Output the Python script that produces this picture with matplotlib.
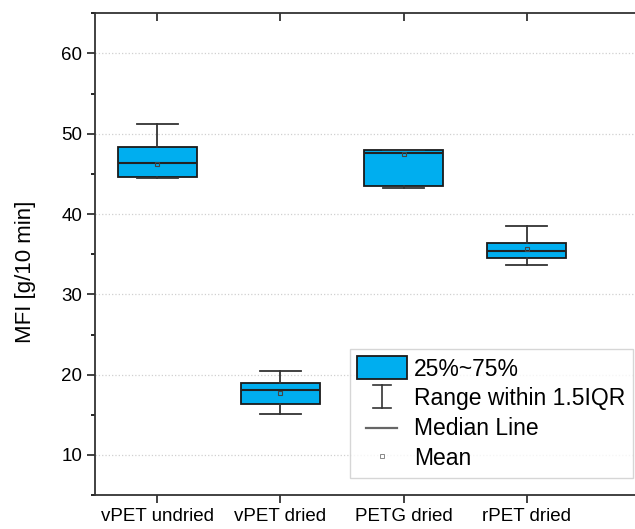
import matplotlib.pyplot as plt
from matplotlib.patches import Patch
from matplotlib.lines import Line2D
from matplotlib.legend_handler import HandlerBase

plt.rcParams['font.family'] = ['Liberation Sans', 'DejaVu Sans']

# box statistics
groups = ['vPET undried', 'vPET dried', 'PETG dried', 'rPET dried']
whislo = [44.5, 15.1, 43.3, 33.6]
q1 = [44.6, 16.35, 43.45, 34.5]
med = [46.4, 18.15, 47.6, 35.4]
q3 = [48.4, 18.9, 48.0, 36.35]
whishi = [51.15, 20.4, 48.0, 38.5]
means = [46.2, 17.7, 47.5, 35.7]

box_color = '#00AEEF'
edge = '#1a1a1a'


class IBeamHandler(HandlerBase):
	def create_artists(self, legend, orig, xd, yd, width, height, fontsize, trans):
		cx = -xd + width / 2
		cy = -yd + height / 2
		w = width * 0.18
		y0, y1 = cy - height * 0.46, cy + height * 0.58
		lines = [Line2D([cx, cx], [y0, y1]),
				 Line2D([cx - w, cx + w], [y0, y0]),
				 Line2D([cx - w, cx + w], [y1, y1])]
		for ln in lines:
			ln.set_color('#333333')
			ln.set_linewidth(1.2)
			ln.set_transform(trans)
		return lines


class ShortLineHandler(HandlerBase):
	def create_artists(self, legend, orig, xd, yd, width, height, fontsize, trans):
		ym = -yd + height / 2
		ln = Line2D([-xd + width * 0.18, -xd + width * 0.8], [ym, ym],
					color = '#666666', linewidth = 1.6, transform = trans)
		return [ln]


stats = []
for i in range(len(groups)):
	stats.append(dict(whislo = whislo[i], q1 = q1[i], med = med[i], q3 = q3[i],
					  whishi = whishi[i], mean = means[i], fliers = [], label = groups[i]))

fig = plt.figure(figsize = (6.35, 5.29), dpi = 100)
ax = fig.add_axes([0.15, 0.064, 0.86, 0.911])

ax.bxp(stats, positions = [1, 2, 3, 4], widths = 0.64, patch_artist = True,
	   showmeans = True, showfliers = False,
	   boxprops = dict(facecolor = box_color, edgecolor = edge, linewidth = 1.3),
	   medianprops = dict(color = '#222222', linewidth = 1.5),
	   whiskerprops = dict(color = '#333333', linewidth = 1.3),
	   capprops = dict(color = '#333333', linewidth = 1.3),
	   capwidths = 0.33,
	   meanprops = dict(marker = 's', markersize = 3.5, markerfacecolor = 'none',
						markeredgecolor = '#444444', markeredgewidth = 0.8))

ax.set_xlim(0.496, 4.93)
ax.set_ylim(5, 65)
ax.set_yticks([10, 20, 30, 40, 50, 60])
ax.set_yticks([5, 15, 25, 35, 45, 55, 65], minor = True)
ax.set_xticks([1, 2, 3, 4])
ax.set_xticklabels(groups)
ax.yaxis.grid(True, linestyle = ':', color = '#d0d0d0', linewidth = 0.9)
ax.set_axisbelow(True)

ax.tick_params(axis = 'both', labelsize = 13.5, color = '#333333', width = 1.3, length = 6)
ax.tick_params(axis = 'y', which = 'minor', length = 3, width = 1.2)
ax.tick_params(axis = 'x', which = 'major', top = True, direction = 'out')
for t in ax.xaxis.get_major_ticks():
	t.tick2line.set_marker(3)
for s in ax.spines.values():
	s.set_color('#333333')
	s.set_linewidth(1.3)

ax.set_ylabel('MFI [g/10 min]', fontsize = 16)
ax.yaxis.set_label_coords(-0.108, 0.463)

handles = [Patch(facecolor = box_color, edgecolor = edge, linewidth = 1.3),
		   Line2D([], []),
		   Line2D([], [], color = '#666666'),
		   Line2D([], [], linestyle = 'none', marker = 's', markersize = 3,
				  markerfacecolor = 'none', markeredgecolor = '#888888', markeredgewidth = 0.7)]
labels = ['25%~75%', 'Range within 1.5IQR', 'Median Line', 'Mean']
leg = fig.legend(handles, labels, loc = 'upper left', bbox_to_anchor = (0.551, 0.340),
				 fontsize = 16.5, frameon = True, fancybox = False, edgecolor = '#cccccc',
				 handler_map = {handles[1]: IBeamHandler(), handles[2]: ShortLineHandler()},
				 handlelength = 2.18, handleheight = 1.15, handletextpad = 0.3,
				 labelspacing = 0.25, borderpad = 0.32, borderaxespad = 0)
leg.get_frame().set_linewidth(1.0)

fig.savefig('out.png')
